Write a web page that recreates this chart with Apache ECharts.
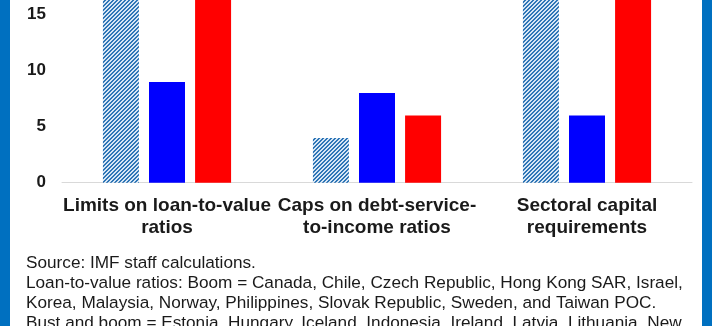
<!DOCTYPE html>
<html><head><meta charset="utf-8">
<script src="https://cdn.jsdelivr.net/npm/echarts@6/dist/echarts.min.js"></script>
<style>html,body{margin:0;padding:0;background:#fff;overflow:hidden}#wrap{width:712px;height:326px;overflow:hidden;position:relative}#c{position:absolute;left:0;top:-120px;width:712px;height:446px}</style>
</head><body><div id="wrap"><div id="c"></div></div>
<script>
const categories = ['Limits on loan-to-value\nratios', 'Caps on debt-service-\nto-income ratios', 'Sectoral capital\nrequirements'];
const seriesNames = ['Bust', 'Boom', 'Bust and boom'];
const bustValues = [20, 4, 22];
const boomValues = [9, 8, 6];
const bustBoomValues = [18, 6, 19];
const yTicks = [0, 5, 10, 15, 20];
const footnotes = [
  'Source: IMF staff calculations.',
  'Loan-to-value ratios: Boom = Canada, Chile, Czech Republic, Hong Kong SAR, Israel,',
  'Korea, Malaysia, Norway, Philippines, Slovak Republic, Sweden, and Taiwan POC.',
  'Bust and boom = Estonia, Hungary, Iceland, Indonesia, Ireland, Latvia, Lithuania, New'
];

function hatch() {
  const s = 4, c = document.createElement('canvas');
  c.width = s; c.height = s;
  const ctx = c.getContext('2d');
  for (let x = 0; x < s; x++) for (let y = 0; y < s; y++) {
    ctx.fillStyle = ((x + y) % 4) < 2 ? '#2E75B6' : '#D6E6F5';
    ctx.fillRect(x, y, 1, 1);
  }
  return c;
}

const OFF = 120;
const chart = echarts.init(document.getElementById('c'), null, {renderer: 'canvas'});
const pxPerUnit = 11.2, zeroY = 182.7 + OFF;
const yMax = yTicks[yTicks.length - 1];
chart.setOption({
  animation: false,
  grid: {left: 62, right: 20, top: zeroY - yMax * pxPerUnit, bottom: 446 - zeroY, containLabel: false},
  xAxis: {
    type: 'category', data: categories,
    axisLine: {lineStyle: {color: '#d9d9d9', width: 1}},
    axisTick: {show: false},
    axisLabel: {color: '#1a1a1a', fontFamily: 'Liberation Sans, Arial', fontWeight: 'bold', fontSize: 19, lineHeight: 22, margin: 12, interval: 0}
  },
  yAxis: {
    type: 'value', min: 0, max: yMax, interval: 5,
    axisLine: {show: false}, axisTick: {show: false}, splitLine: {show: false},
    axisLabel: {color: '#1a1a1a', fontFamily: 'Liberation Sans, Arial', fontWeight: 'bold', fontSize: 17, margin: 16}
  },
  series: [
    {name: seriesNames[0], type: 'bar', data: bustValues, barWidth: 36, barGap: '28%', itemStyle: {color: {image: hatch(), repeat: 'repeat'}}},
    {name: seriesNames[1], type: 'bar', data: boomValues, barWidth: 36, barGap: '28%', itemStyle: {color: '#0000FF'}},
    {name: seriesNames[2], type: 'bar', data: bustBoomValues, barWidth: 36, barGap: '28%', itemStyle: {color: '#FF0000'}}
  ],
  graphic: [
    {type: 'rect', left: 0, top: 0, shape: {width: 10, height: 446}, style: {fill: '#0070C0'}},
    {type: 'rect', left: 702, top: 0, shape: {width: 10, height: 446}, style: {fill: '#0070C0'}}
  ].concat(footnotes.map((t, i) => ({
    type: 'text', left: 26, top: OFF + 255 + i * 20,
    style: {text: t, fill: '#1a1a1a', font: '17.2px "Liberation Sans", Arial'}
  })))
});
</script></body></html>
